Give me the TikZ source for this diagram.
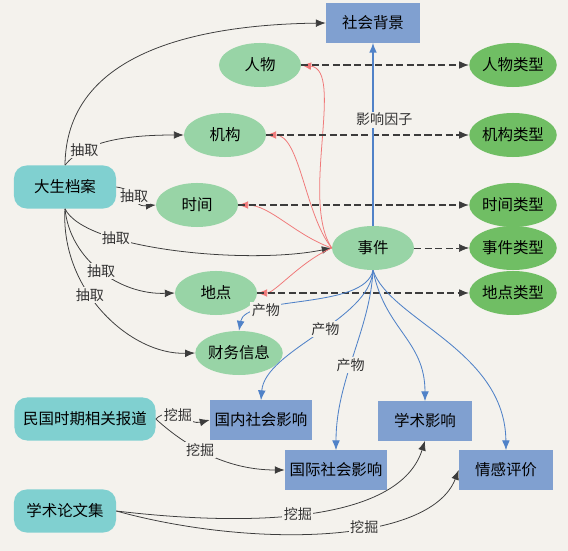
\documentclass[tikz,border=0pt]{standalone}
\usepackage{fontspec}
\newfontfamily\cjk{Noto Sans CJK SC}
\usepackage{tikz}
\usetikzlibrary{shapes.geometric, arrows.meta, positioning}
\definecolor{paper}{RGB}{244,242,237}
\definecolor{entG}{RGB}{152,212,166}
\definecolor{typG}{RGB}{112,190,100}
\definecolor{srcT}{RGB}{128,208,208}
\definecolor{resB}{RGB}{128,160,208}
\definecolor{redL}{RGB}{240,120,120}
\definecolor{blueL}{RGB}{80,130,200}
\definecolor{tipC}{RGB}{60,60,60}
\tikzset{
  ent/.style   = {ellipse, fill=entG, minimum width=2.05cm, minimum height=1.1cm, inner sep=0pt},
  entT/.style  = {ellipse, fill=typG, minimum width=2.05cm, minimum height=1.1cm, inner sep=0pt},
  src/.style   = {rectangle, fill=srcT, rounded corners=9pt, minimum width=2.55cm, minimum height=1.075cm},
  res/.style   = {rectangle, fill=resB, minimum width=2.35cm, minimum height=0.975cm},
  lbl/.style   = {font=\cjk\fontsize{10}{12}\selectfont, text=black!80, fill=paper, inner sep=1pt},
  arrow/.style = {line width=0.55pt, draw=black!85, -{Latex[length=7pt,width=5.5pt]}, tipC},
  rarrow/.style = {line width=0.55pt, draw=redL, -{Latex[length=7pt,width=5.5pt]}, redL},
  barrow/.style = {line width=0.6pt, draw=blueL, -{Latex[length=7pt,width=5.5pt]}, blueL},
  dasharrow/.style = {thick, draw=black!60, dash pattern=on 5pt off 2.5pt, -{Latex[length=7pt,width=5.5pt]}, tipC},
}
\begin{document}
\begin{tikzpicture}[x=0.025cm, y=-0.025cm, every node/.style={font=\cjk\fontsize{11}{13}\selectfont}]

    \fill[paper] (0,0) rectangle (568,551);
    \useasboundingbox (0,0) rectangle (568,551);

    %% ===================== SOURCES =====================
    \node[src] (dasheng) at (65, 187) {大生档案};
    \node[src, minimum width=3.525cm] (mingguo) at (85, 419) {民国时期相关报道};
    \node[src] (lunwen)  at (65, 511) {学术论文集};

    %% ===================== ENTITIES =====================
    \node[ent] (renwu)   at (260,  65) {人物};
    \node[ent] (jigou)   at (225, 135) {机构};
    \node[ent] (shijian) at (197, 205) {时间};
    \node[ent] (event)   at (373, 248) {事件};
    \node[ent] (didian)  at (216, 293) {地点};
    \node[ent] (caiwu)   at (239, 353) {财务信息};

    \node[entT] (renwuT)   at (513,  65) {人物类型};
    \node[entT] (jigouT)   at (513, 135) {机构类型};
    \node[entT] (shijianT) at (513, 205) {时间类型};
    \node[entT] (eventT)   at (513, 248) {事件类型};
    \node[entT] (didianT)  at (513, 293) {地点类型};

    %% ===================== RESULTS =====================
    \node[res] (bg)     at (373,  23) {社会背景};
    \node[res] (guonei) at (261, 420) {国内社会影响};
    \node[res] (guoji)  at (336, 470) {国际社会影响};
    \node[res] (xsyx)   at (425, 421) {学术影响};
    \node[res] (qgpj)   at (506, 470) {情感评价};

    %% extraction
    \draw[arrow] (dasheng.north) .. controls (66, 60) and (180, 25) .. (bg.west);
    \draw[arrow] (dasheng.north) .. controls (85, 140) and (130, 135) .. node[lbl, pos=0.25]{抽取} (jigou.west);
    \draw[arrow] (dasheng.east) .. controls (140, 190) and (130, 207) .. node[lbl, pos=0.45]{抽取} (shijian.west);
    \draw[arrow] (dasheng.south) .. controls (85, 250) and (250, 265) .. node[lbl, pos=0.3]{抽取} (event.west);
    \draw[arrow] (dasheng.south) .. controls (70, 260) and (120, 295) .. node[lbl, pos=0.5]{抽取} (didian.west);
    \draw[arrow] (dasheng.south) .. controls (60, 290) and (130, 355) .. node[lbl, pos=0.4]{抽取} (caiwu.west);

    %% event links
    \draw[rarrow] (event.west) .. controls (300, 200) and (345, 70) .. (renwu.east);
    \draw[rarrow] (event.west) .. controls (305, 215) and (300, 135) .. (jigou.east);
    \draw[rarrow] (event.west) .. controls (295, 235) and (270, 205) .. (shijian.east);
    \draw[rarrow] (event.west) .. controls (300, 262) and (275, 293) .. (didian.east);

    %% types
    \draw[dasharrow] (renwu)   -- (renwuT);
    \draw[dasharrow] (jigou)   -- (jigouT);
    \draw[dasharrow] (shijian) -- (shijianT);
    \draw[dasharrow, thin] (event) -- (eventT);
    \draw[dasharrow] (didian)  -- (didianT);

    %% products
    \draw[barrow, line width=1pt] (event) -- node[lbl, pos=0.58, xshift=8pt]{影响因子} (bg);
    \draw[barrow] (event.south) .. controls (365, 310) and (245, 295) .. node[lbl, pos=0.72]{产物} (caiwu.north);
    \draw[barrow] (event.south) .. controls (370, 320) and (265, 350) .. node[lbl, pos=0.45]{产物} (guonei.north);
    \draw[barrow] (event.south) .. controls (370, 330) and (336, 380) .. node[lbl, pos=0.55]{产物} (guoji.north);
    \draw[barrow] (event.south) .. controls (385, 330) and (425, 340) .. (xsyx.north);
    \draw[barrow] (event.south) .. controls (390, 320) and (505, 350) .. (qgpj.north);

    %% mining
    \draw[arrow] (mingguo.east) .. controls (170, 405) and (190, 425) .. node[lbl, pos=0.45]{挖掘} (guonei.west);
    \draw[arrow] (mingguo.east) .. controls (190, 450) and (230, 470) .. node[lbl, pos=0.4]{挖掘} (guoji.west);
    \draw[arrow] (lunwen.east) .. controls (260, 528) and (400, 520) .. node[lbl, pos=0.45]{挖掘} (xsyx.south);
    \draw[arrow] (lunwen.east) .. controls (250, 548) and (430, 545) .. node[lbl, pos=0.6]{挖掘} (qgpj.west);

  \end{tikzpicture}
\end{document}
